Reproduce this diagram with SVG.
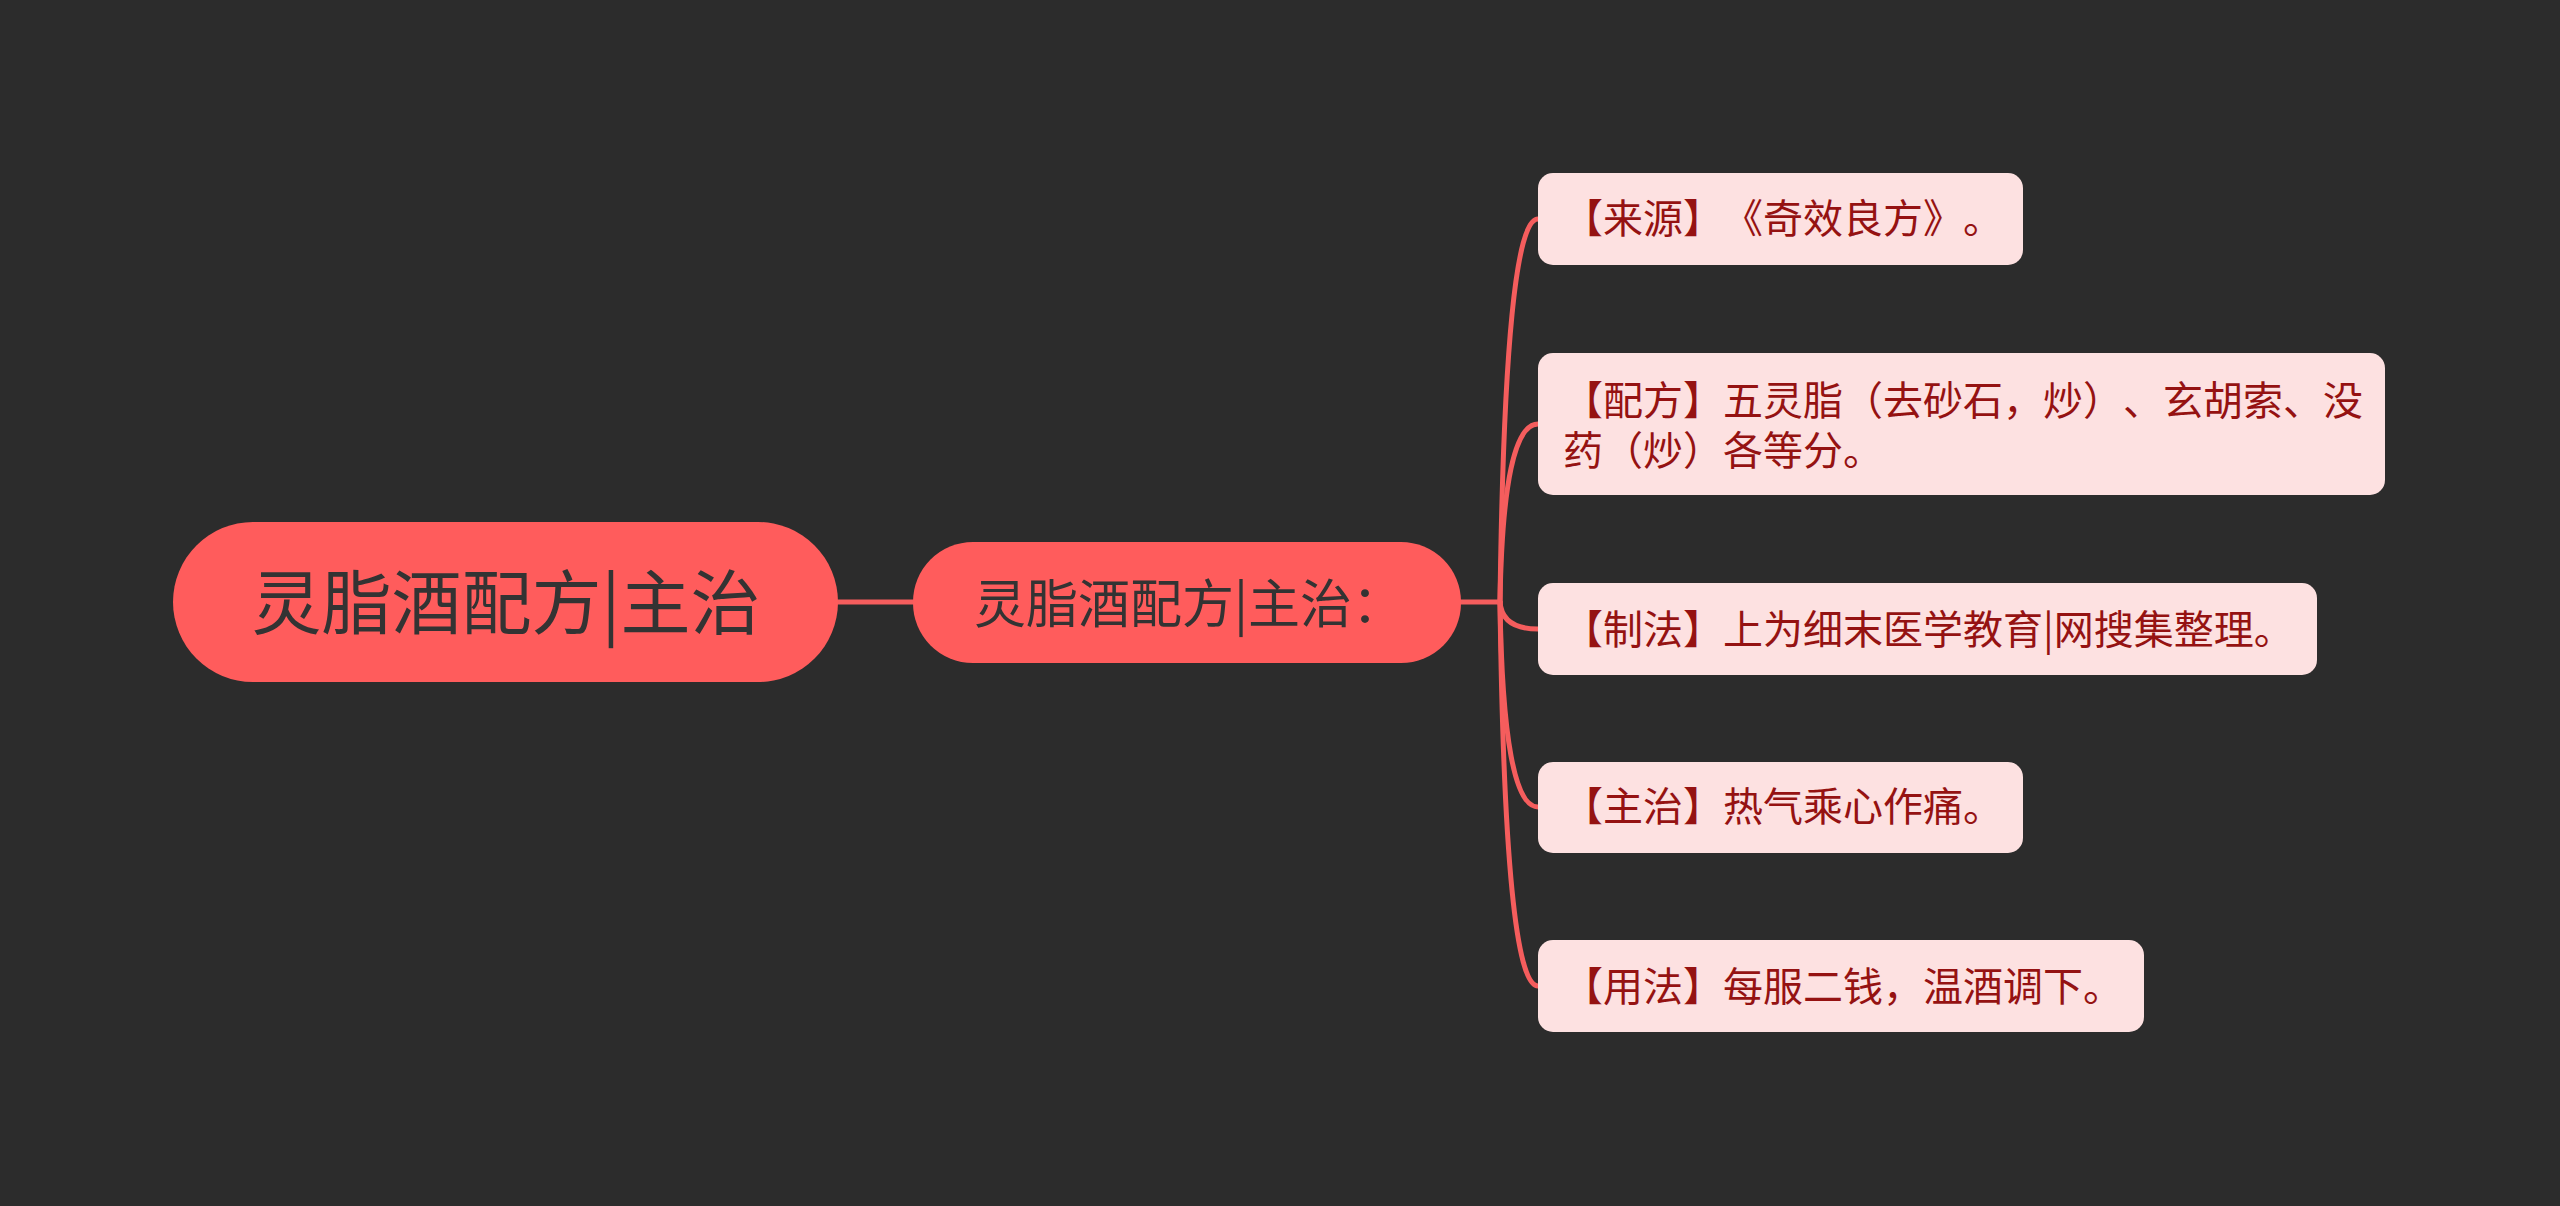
<svg xmlns="http://www.w3.org/2000/svg" width="2560" height="1206" viewBox="0 0 2560 1206">
<style>
.bg{fill:#2c2c2c}
.main{fill:#ff5c5c}
.mt{fill:#333333;font-family:"Noto Sans CJK SC","Noto Sans",sans-serif;font-kerning:none;text-spacing-trim:space-all}
.leaf{fill:#fde1e1}
.lt{fill:#951212;font-family:"Noto Sans CJK SC","Noto Sans",sans-serif;font-size:40px;font-kerning:none;text-spacing-trim:space-all;font-feature-settings:"halt" 0,"chws" 0}
.con{fill:none;stroke:#f55d5d;stroke-width:5;stroke-linecap:round}
</style>
<rect class="bg" x="0" y="0" width="2560" height="1206"/>
<g id="connectors">
<line class="con" x1="836" y1="602" x2="915" y2="602"/>
<line class="con" x1="1459" y1="602" x2="1500" y2="602"/>
<path class="con" d="M1500,602 Q1505,219 1538,219"/>
<path class="con" d="M1500,602 Q1503,424 1538,424"/>
<path class="con" d="M1500,602 Q1502,629 1538,629"/>
<path class="con" d="M1500,602 Q1503,807 1538,807"/>
<path class="con" d="M1500,602 Q1505,986 1538,986"/>
</g>
<g id="root">
<rect class="main" x="173" y="522" width="665" height="160" rx="80"/>
<text class="mt" x="506" y="629" font-size="70" text-anchor="middle">灵脂酒配方|主治</text>
</g>
<g id="sub">
<rect class="main" x="913" y="542" width="548" height="121" rx="60"/>
<text class="mt" x="974" y="623" font-size="52">灵脂酒配方|主治：</text>
</g>
<g id="leaf1">
<rect class="leaf" x="1538" y="173" width="485" height="92" rx="15"/>
<text class="lt" x="1563" y="233">【来源】《奇效良方》。</text>
</g>
<g id="leaf2">
<rect class="leaf" x="1538" y="353" width="847" height="142" rx="15"/>
<text class="lt"><tspan x="1563" y="415">【配方】五灵脂（去砂石，炒）、玄胡索、没</tspan><tspan x="1563" y="465">药（炒）各等分。</tspan></text>
</g>
<g id="leaf3">
<rect class="leaf" x="1538" y="583" width="779" height="92" rx="15"/>
<text class="lt" x="1563" y="644">【制法】上为细末医学教育|网搜集整理。</text>
</g>
<g id="leaf4">
<rect class="leaf" x="1538" y="762" width="485" height="91" rx="15"/>
<text class="lt" x="1563" y="821">【主治】热气乘心作痛。</text>
</g>
<g id="leaf5">
<rect class="leaf" x="1538" y="940" width="606" height="92" rx="15"/>
<text class="lt" x="1563" y="1001">【用法】每服二钱，温酒调下。</text>
</g>
</svg>
